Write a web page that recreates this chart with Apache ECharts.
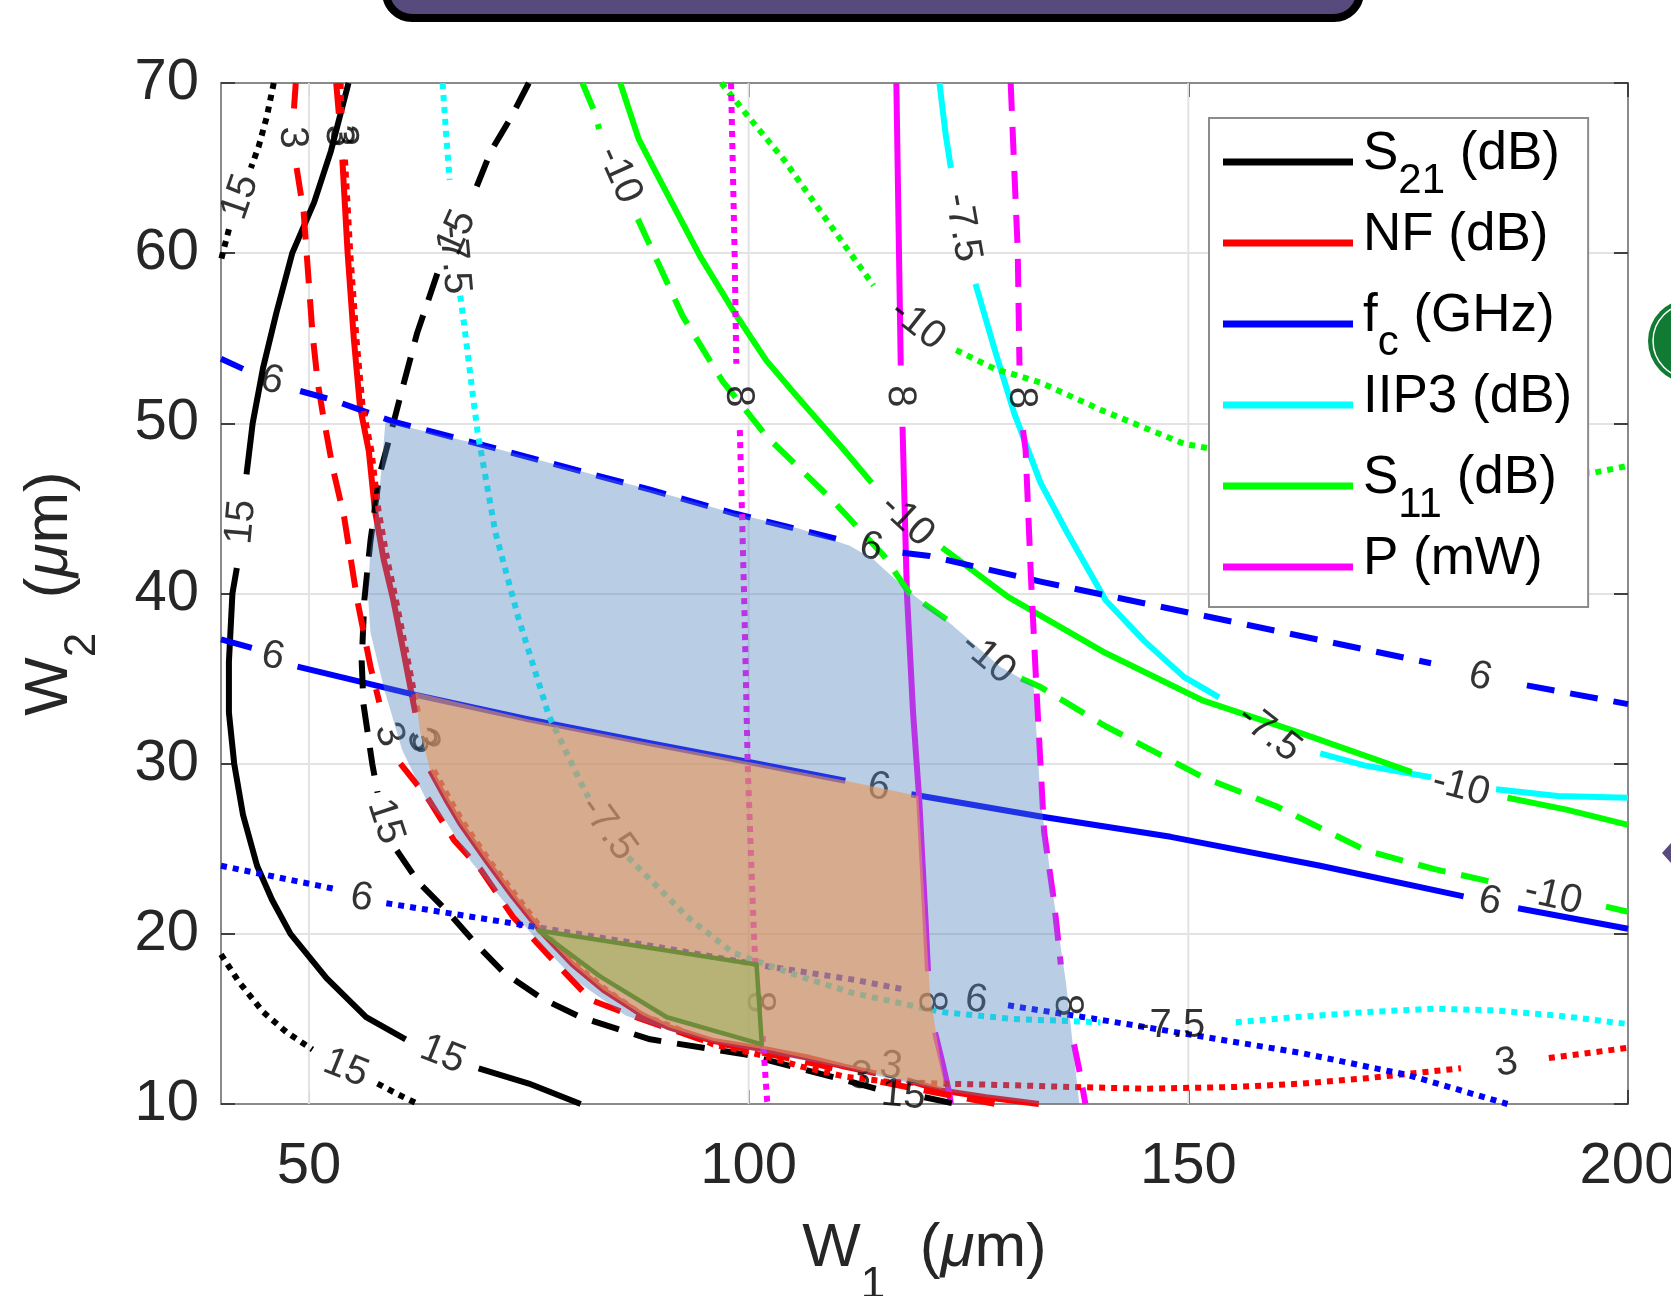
<!DOCTYPE html>
<html>
<head>
<meta charset="utf-8">
<title>W1 / W2 design space</title>
<script src="https://cdn.jsdelivr.net/npm/echarts@6/dist/echarts.min.js"></script>
<style>
  html, body { margin: 0; background: #fff; }
  #chart { width: 1671px; height: 1296px; }
</style>
</head>
<body>
<div id="chart"></div>
<script>
// contour traces as [W1, W2] in um; null leaves a gap for a contour label
var xTicks = [50, 100, 150, 200];
var legendNames = ['S21 (dB)', 'NF (dB)', 'fc (GHz)', 'IIP3 (dB)', 'S11 (dB)', 'P (mW)'];

var s21Solid = [[54.5,70],[52.5,66],[50.6,63],[48.1,60],[46.3,56.5],[44.8,53.3],[43.6,50],[42.9,47],null,
  [41.8,41.5],[41.3,40],[40.9,36],[40.9,33],[41.5,30],[42.5,27],[44.1,24],[45.8,22],[47.9,20],[52,17.4],
  [56.5,15.1],[61,13.8],null,[69.3,12.1],[75,11.2],[80.9,10]];
var s21Dashed = [[75,70],[73,68],[70.7,66],[68.6,63.3],null,[64.6,58.8],[62.3,55.3],[60.6,52],[59.6,50],
  [58,46.9],[57,43.1],[56.3,39.6],[56,36],[56.2,33.5],[57.2,30],[57.8,28.3],null,[60,24.9],[62.5,23],
  [65.6,21.4],[69,19.4],[72.2,17.7],[76.5,16.2],[80.9,15.1],[88.8,13.8],[99.7,12.9],[105,12.2],[111,11.4],
  [114.5,10.9],null,[120,10.4],[123.6,10]];
var s21Dotted = [[46,70],[45.2,68],[44.3,66.3],[43.4,65],null,[40.9,61.4],[40,59.6],null,
  [40,18.8],[42,17.2],[44.8,15.4],[47.5,14.2],[50.4,13.2],null,[57.8,11.2],[60,10.6],[62.4,10]];

var nfSolid = [[53.1,70],[53.4,68.2],null,[53.8,65.5],[54.4,60],[55.1,55],[55.8,51],[56.8,48.4],[57.5,44.9],
  [58.5,42],[59.6,39.6],[60.6,37],[61.6,34.3],[62.1,33],null,[63.8,29.6],[65.6,27.9],[67.2,26.5],[70.2,24.3],
  [73.2,22.2],[76.3,20.2],[80,18.2],[83.5,16.7],[88,15.2],[91,14.5],[96,13.7],[102,13.2],[107,12.7],
  [110.9,12.2],[114.5,11.8],null,[118,11.4],[121.9,10.8],[127,10.4],[133,10]];
var nfDashed = [[48.5,70],[48.3,68.5],null,[48.6,65],[49.4,62.4],[50.4,55.3],[51,52.4],[51.6,50.5],[52.7,47.4],
  [54,44.5],[55.5,39.6],[57,35.7],[58,33.6],null,[60.4,30],[62.1,28.9],[63.6,27.9],[66.5,25.5],[69.5,23.8],
  [73.2,21],[77.3,18.7],[82.1,16.1],[87.2,15.1],[94.5,13.8],[100,13.2],[108,12.3],[110.5,12],null,
  [115,11.3],[122,10.6],[128,10]];
var nfDotted = [[53.6,70],[53.7,68.2],null,[54.1,65.5],[54.7,60],[55.4,55],[56.1,51],[57.1,48.4],[57.9,44.9],
  [58.9,42],[59.9,39.6],[60.9,37],[61.9,34.3],[62.4,33],null,[64.2,29.6],[66,27.9],[67.6,26.5],[70.5,24.3],
  [73.6,22.2],[76.6,20.2],[80.3,18.2],[83.8,16.7],[88,15.2],[91.5,14.5],[96,13.5],[102,12.8],[106,12.2],
  [111,11.6],[116,11.3],[122,11.2],[130,11.1],[136.8,11],[145,10.9],[155.4,11],[163,11.2],[170,11.5],
  [181,12.1],null,[191,12.7],[200,13.3]];

var fcSolid = [[40,37.3],[43.5,36.8],null,[48.7,35.7],[61.6,34.1],[75,32.6],[88.8,31.2],[100,30.1],[111,29],
  null,[118.5,28.2],[133.2,26.9],[148,25.7],[165,24],[181.3,22.2],null,[187.5,21.5],[200,20.3]];
var fcDashed = [[40,53.8],[42.5,53.2],null,[49,51.9],[52.5,51.4],[59.6,50.1],[70.7,48.6],[88.8,46.1],
  [98.4,44.7],[110.9,43.1],null,[117.5,42.4],[120.6,42.2],[133.2,40.7],[155.4,38.3],[177.6,35.9],null,
  [188.5,34.6],[200,33.5]];
var fcDotted = [[40,24],[53.3,22.6],null,[58.8,21.8],[75.8,20.4],[90,19.2],[102,18.1],[112,17.3],[118,16.7],
  null,[129.5,15.8],[140.6,14.9],[150,14.1],[162.8,13],[175,11.7],[186.3,10]];

var iip3Solid = [[121.7,70],[122.4,67],[123,65],null,[125.8,58.2],[128,54.3],[130.2,50.6],[133.2,46.5],
  [136.2,43.6],[140.6,39.6],[145,37.2],[149.5,35.1],[153.5,33.9],null,[165,30.6],[170,29.9],[177.6,29.2],
  null,[185,28.5],[192,28.1],[200,28]];
var iip3Dotted = [[65.2,70],[65.6,67],[66,64.3],null,[67.2,57.5],[67.6,56],[68.7,51.4],[69.2,49.4],
  [71.2,43.6],[73.8,38.6],[77.3,32.8],[80.9,28.9],[81.8,28],null,[86.3,24.5],[88.8,23.2],[93,21],[98.2,18.9],
  [105.8,17.5],[112,16.5],[122,15.4],[130,15],[140,14.8],null,[155.4,14.8],[162,15.1],[170.2,15.4],
  [178,15.6],[184.9,15.5],[192,15.2],[200,14.7]];

var s11Solid = [[85.4,70],[87.5,66.7],[89.5,64.7],[94.5,59.8],[98.4,56.5],[102,53.7],[105.8,51.4],
  [110.9,48.4],[114,46.5],null,[122,42.7],[129.5,39.8],[140.6,36.5],[151.7,33.7],[162.8,31.8],[175.4,29.5],
  null,[186.3,28],[193,27.3],[200,26.4]];
var s11Dashed = [[81.1,70],[82.4,68.4],[83,67.3],null,[87.4,62],[92.5,56.3],[97,52.5],[102.1,49.2],
  [109.5,45.5],[115.4,42.2],[118.3,40],[123,38.3],null,[131,35],[133.2,34.5],[140.6,32.2],[151.7,29.2],
  [160,27.5],[170.2,24.9],[178,23.8],[185,23],null,[197.5,21.6],[200,21.3]];
var s11Dotted = [[96.9,70],[100,68],[104,65.5],[107.3,63.1],[111,60.4],[114.2,58.1],null,[123.6,54.3],
  [128,53.2],[133.2,52.4],[140,50.8],[149.5,48.8],[160,47.8],[175,47.3],[190,47.1],[196.1,47.1],[200,47.5]];

var pSolid = [[116.8,70],[117.1,60],[117.3,53.4],null,[117.5,49.8],[118,40],[118.7,33],[119.4,27.9],
  [120.1,21],[120.4,17.8],null,[121.2,14.2],[122,12.5],[122.8,10.7],[123,10]];
var pDashed = [[129.8,70],[130.2,65],[130.6,60.2],[130.8,53.4],null,[131.2,49.6],[131.5,48.4],[132.1,41],
  [132.8,33.7],[133.6,26],[134.7,22],[135.5,18.2],null,[137,13.5],[137.6,12],[138.3,10]];
var pDotted = [[98,70],[98.4,60.2],[98.6,53.5],null,[99,49.6],[99.5,39.6],[99.9,29.8],[100.6,20],
  [100.8,17.9],null,[101.6,14],[102.1,10.2],[102.2,10]];

// feasible regions (dashed, solid and dotted constraint sets)
var regionDashed = [[58.7,50.1],[70.7,48.6],[88.8,46.1],[98.4,44.7],[105.8,43.8],[111.5,42.8],[114.2,42],
  [118,40.2],[122.8,38.3],[128.6,35.7],[132.4,34.6],[133.2,27.9],[134.7,22],[136.1,17.1],[137.6,10],[133,10],
  [127,10.4],[121.9,10.8],[116,11.5],[110.9,12.1],[102,13],[96,13.6],[91,14.3],[86,15.2],[80.5,17.2],
  [76,19.6],[72,22],[68.5,24.2],[65.6,26.6],[63.6,27.6],[60.6,30.8],[58.6,34.3],[57,37.7],[56.7,40],
  [57,42.6],[58.1,46.5]];
var regionSolid = [[62.1,34.2],[75,32.6],[88.8,31.2],[100,30.1],[111,29],[119.3,28.1],[120.1,21],[120.6,16.7],
  [121.3,14.2],[122.3,11.2],[121.9,10.9],[116,11.6],[110.9,12.2],[102,13.2],[96,13.7],[91,14.5],[88,15.2],
  [83.5,16.7],[80,18.2],[76.3,20.2],[73.2,22.2],[70.2,24.3],[67.2,26.5],[65.6,27.9],[63.8,29.6],[62.6,32]];
var regionDotted = [[76.1,20.2],[100.9,18.2],[101.5,13.5],[90.7,15.1],[83.1,17.5]];

// contour labels [W1, W2, text] and their angles
var contourLabels = [
  [42.3,44.2,'15'],[65.2,12.9,'15'],[42.2,63.3,'15'],[54.2,12.1,'15'],[66.8,61.2,'15'],[58.7,26.6,'15'],[117.6,10.5,'15'],
  [48.1,66.8,'3'],[53.3,66.9,'3'],[53.8,66.9,'3'],[59.1,31.7,'3'],[62.7,31.4,'3'],[63.1,31.3,'3'],[112.7,11.6,'3'],[116.2,12.2,'3'],[186.2,12.4,'3'],
  [45.9,36.3,'6'],[114.8,28.6,'6'],[184.3,21.9,'6'],[45.8,52.5,'6'],[113.9,42.7,'6'],[183.2,35.1,'6'],[56,22.1,'6'],[125.9,16.1,'6'],
  [124.3,61.5,'-7.5'],[159.2,31.8,'-7.5'],[66.5,59.6,'-7.5'],[84,26.2,'-7.5'],[148,14.6,'-7.5'],
  [118,44.3,'-10'],[181,28.6,'-10'],[85.3,64.6,'-10'],[127.2,36.2,'-10'],[191.5,22.2,'-10'],[119.2,55.8,'-10'],
  [117.2,51.6,'8'],[120.7,16,'8'],[131,51.5,'8'],[136.2,15.8,'8'],[98.8,51.6,'8'],[101.2,16,'8']
];
var labelAngles = [
  85,-22,71,-22,66,-72,-5,
  -88,-88,-88,-70,-70,-70,-8,-8,10,
  -12,-11,-12,-14,-14,-14,-9,-8,
  -80,-38,-85,-54,0,
  -43,-15,-66,-40,-13,-38,
  -88,-86,-88,-86,-88,-88
];

var FONT = '"Liberation Sans", Arial, Helvetica, sans-serif';
var DASH = [28, 16];
var DOT = [6, 6];

function gapped(pts) {
  return pts.map(function (p) { return p ? p : ['-', '-']; });
}

function contour(name, color, type, pts) {
  return {
    name: name, type: 'line', data: gapped(pts),
    symbol: 'none', showSymbol: false, connectNulls: false,
    silent: true, z: 2,
    itemStyle: { color: color },
    lineStyle: { color: color, width: 6, type: type, cap: 'butt', join: 'round' }
  };
}

function region(poly, fill, stroke, z) {
  return {
    type: 'custom', silent: true, z: z, data: [poly[0]],
    renderItem: function (params, api) {
      var pts = poly.map(function (p) { return api.coord(p); });
      return {
        type: 'polygon', shape: { points: pts },
        style: { fill: fill, stroke: stroke || 'none', lineWidth: stroke ? 4.5 : 0, lineJoin: 'round' }
      };
    }
  };
}

var chart = echarts.init(document.getElementById('chart'));

var series = [
  // vertical grid lines
  {
    type: 'custom', silent: true, z: 1,
    data: xTicks.slice(0, 3).map(function (x) { return [x, 10]; }),
    renderItem: function (params, api) {
      var a = api.coord([api.value(0), 10]);
      var b = api.coord([api.value(0), 70]);
      return { type: 'line', shape: { x1: a[0], y1: a[1], x2: b[0], y2: b[1] },
        style: { stroke: '#e3e3e3', lineWidth: 2 } };
    }
  },
  // solid ones first so the legend takes their style
  contour('S21 (dB)', '#000000', 'solid', s21Solid),
  contour('NF (dB)', '#ff0000', 'solid', nfSolid),
  contour('fc (GHz)', '#0000ff', 'solid', fcSolid),
  contour('IIP3 (dB)', '#00ffff', 'solid', iip3Solid),
  contour('S11 (dB)', '#00ff00', 'solid', s11Solid),
  contour('P (mW)', '#ff00ff', 'solid', pSolid),
  contour('S21 (dB)', '#000000', DASH, s21Dashed),
  contour('NF (dB)', '#ff0000', DASH, nfDashed),
  contour('fc (GHz)', '#0000ff', DASH, fcDashed),
  contour('S11 (dB)', '#00ff00', DASH, s11Dashed),
  contour('P (mW)', '#ff00ff', DASH, pDashed),
  contour('S21 (dB)', '#000000', DOT, s21Dotted),
  contour('NF (dB)', '#ff0000', DOT, nfDotted),
  contour('fc (GHz)', '#0000ff', DOT, fcDotted),
  contour('IIP3 (dB)', '#00ffff', DOT, iip3Dotted),
  contour('S11 (dB)', '#00ff00', DOT, s11Dotted),
  contour('P (mW)', '#ff00ff', DOT, pDotted),
  {
    type: 'scatter', silent: true, z: 3,
    symbol: 'circle', symbolSize: 1,
    itemStyle: { color: 'rgba(0,0,0,0)' },
    data: contourLabels.map(function (l, i) {
      return { value: [l[0], l[1]], name: l[2], label: { rotate: labelAngles[i] } };
    }),
    label: { show: true, position: 'inside', formatter: '{b}', fontSize: 40, color: '#000', fontFamily: FONT }
  },
  region(regionDashed, 'rgba(79,129,189,0.4)', null, 5),
  region(regionSolid, 'rgba(233,148,84,0.6)', null, 6),
  region(regionDotted, 'rgba(162,184,100,0.6)', '#6e8c3a', 7)
];

var nameRich = {
  m: { fontSize: 62, fontFamily: FONT, color: '#262626', verticalAlign: 'top' },
  mu: { fontSize: 62, fontFamily: FONT, color: '#262626', verticalAlign: 'top', fontStyle: 'italic' },
  sub: { fontSize: 44, fontFamily: FONT, color: '#262626', verticalAlign: 'bottom' }
};

var legendText = {
  'S21 (dB)': '{f|S}{sub|21}{m| (dB)}',
  'NF (dB)': '{f|NF (dB)}',
  'fc (GHz)': '{f|f}{sub|c}{m| (GHz)}',
  'IIP3 (dB)': '{f|IIP3 (dB)}',
  'S11 (dB)': '{f|S}{sub|11}{m| (dB)}',
  'P (mW)': '{f|P (mW)}'
};

var option = {
  animation: false,
  backgroundColor: '#ffffff',
  grid: { left: 221, right: 43, top: 83, bottom: 192, containLabel: false, outerBoundsMode: 'none' },
  xAxis: [
    {
      type: 'value', min: 40, max: 200, position: 'bottom',
      axisLine: { show: true, onZero: false, lineStyle: { color: '#8a8a8a', width: 2 } },
      axisTick: { show: true, inside: true, length: 14, customValues: xTicks, lineStyle: { color: '#404040', width: 2 } },
      axisLabel: { customValues: xTicks, fontSize: 58, color: '#262626', fontFamily: FONT, margin: 34 },
      splitLine: { show: false },
      name: '{m|W}{sub|1}{m|  (}{mu|μ}{m|m)}',
      nameLocation: 'middle', nameGap: 114,
      nameTextStyle: { fontSize: 62, lineHeight: 90, fontFamily: FONT, color: '#262626', rich: nameRich }
    },
    {
      type: 'value', min: 40, max: 200, position: 'top',
      axisLine: { show: true, onZero: false, lineStyle: { color: '#8a8a8a', width: 2 } },
      axisTick: { show: true, inside: true, length: 14, customValues: xTicks, lineStyle: { color: '#404040', width: 2 } },
      axisLabel: { show: false },
      splitLine: { show: false }
    }
  ],
  yAxis: [
    {
      type: 'value', min: 10, max: 70, interval: 10, position: 'left',
      axisLine: { show: true, onZero: false, lineStyle: { color: '#8a8a8a', width: 2 } },
      axisTick: { show: true, inside: true, length: 14, lineStyle: { color: '#404040', width: 2 } },
      axisLabel: { fontSize: 58, color: '#262626', fontFamily: FONT, margin: 22 },
      splitLine: { show: true, lineStyle: { color: '#e3e3e3', width: 2 } },
      name: '{m|W}{sub|2}{m|  (}{mu|μ}{m|m)}',
      nameLocation: 'middle', nameGap: 116, nameRotate: 90,
      nameTextStyle: { fontSize: 62, lineHeight: 86, fontFamily: FONT, color: '#262626', rich: nameRich }
    },
    {
      type: 'value', min: 10, max: 70, interval: 10, position: 'right',
      axisLine: { show: true, onZero: false, lineStyle: { color: '#8a8a8a', width: 2 } },
      axisTick: { show: true, inside: true, length: 14, lineStyle: { color: '#404040', width: 2 } },
      axisLabel: { show: false },
      splitLine: { show: false }
    }
  ],
  legend: {
    data: legendNames,
    orient: 'vertical',
    left: 1209, top: 118,
    padding: [4, 16, 0, 14],
    icon: 'rect',
    itemWidth: 130, itemHeight: 7, itemGap: 1,
    backgroundColor: '#ffffff', borderColor: '#8c8c8c', borderWidth: 2,
    selectedMode: false,
    z: 10,
    formatter: function (name) { return legendText[name]; },
    textStyle: {
      fontSize: 53, lineHeight: 80, fontFamily: FONT, color: '#000',
      rich: {
        f: { fontSize: 53, fontFamily: FONT, color: '#000', verticalAlign: 'top', padding: [6, 0, 0, 5] },
        m: { fontSize: 53, fontFamily: FONT, color: '#000', verticalAlign: 'top', padding: [6, 0, 0, 0] },
        sub: { fontSize: 42, fontFamily: FONT, color: '#000', verticalAlign: 'bottom' }
      }
    }
  },
  graphic: [
    { type: 'rect', shape: { x: 386, y: -44, width: 974, height: 62, r: 26 },
      style: { fill: '#574b7e', stroke: '#000', lineWidth: 8 }, z: 20 },
    { type: 'circle', shape: { cx: 1690, cy: 341, r: 42 }, style: { fill: '#117a33' }, z: 20 },
    { type: 'circle', shape: { cx: 1690, cy: 341, r: 37 }, style: { fill: 'none', stroke: '#ffffff', lineWidth: 1.5 }, z: 21 },
    { type: 'polygon', shape: { points: [[1662, 853], [1672, 842], [1672, 864]] }, style: { fill: '#574b7e' }, z: 20 }
  ],
  series: series
};

chart.setOption(option);
window.addEventListener('resize', function () { chart.resize(); });
</script>
</body>
</html>
